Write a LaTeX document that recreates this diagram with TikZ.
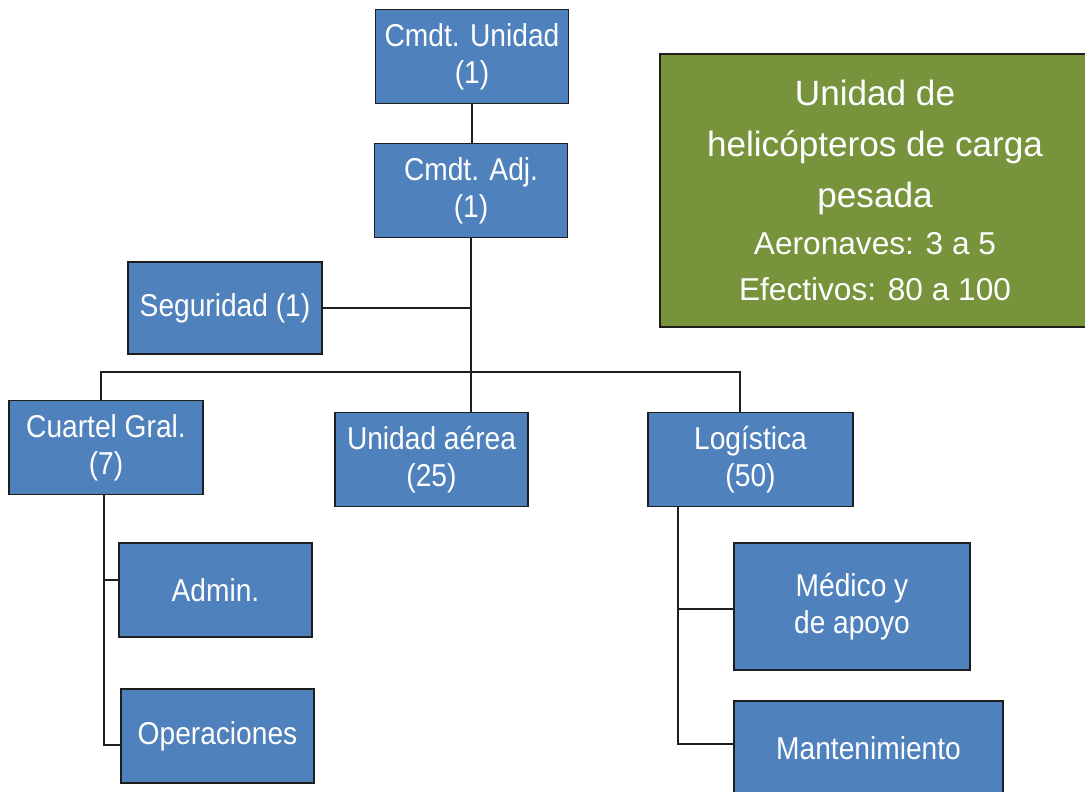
\documentclass[tikz,border=0pt]{standalone}
\usepackage{fontspec}
\setmainfont{Liberation Sans}
\newfontfamily\narrowfont[FakeStretch=0.89]{Liberation Sans}
\usepackage{tikz}
\usetikzlibrary{positioning,calc}
\definecolor{unitblue}{RGB}{79,129,189}
\definecolor{unitgreen}{RGB}{119,147,60}
\definecolor{linegray}{RGB}{30,30,30}

\begin{document}
\begin{tikzpicture}[
  x=0.02cm,y=-0.02cm,
  unit/.style={draw=linegray,fill=unitblue,text=white,line width=0.8pt,align=center,
    font=\narrowfont\fontsize{18}{21}\selectfont,inner sep=2pt,minimum height=1.87cm},
  info/.style={draw=linegray,fill=unitgreen,text=white,line width=0.8pt,align=center,
    font=\fontsize{20}{29}\selectfont,inner sep=2pt},
  conn/.style={draw=linegray,line width=0.8pt},
]
\useasboundingbox (0,0) rectangle (1085,791);
\clip (0,0) rectangle (1085,791);

\node[unit,minimum width=3.86cm] (unidad) at (472,56.5) {Cmdt. Unidad\\(1)};
\node[unit,minimum width=3.86cm] (adj) at (471,190.5) {Cmdt. Adj.\\(1)};
\node[unit,minimum width=3.88cm,minimum height=1.84cm] (seguridad) at (225,308) {Seguridad (1)};
\node[unit,minimum width=3.88cm] (cuartel) at (106,447.5) {Cuartel Gral.\\(7)};
\node[unit,minimum width=3.86cm] (aerea) at (431.5,459.5) {Unidad aérea\\(25)};
\node[unit,minimum width=4.1cm] (logistica) at (750.5,459.5) {Logística\\(50)};
\node[unit,minimum width=3.86cm,minimum height=1.88cm] (admin) at (215.5,590) {Admin.};
\node[unit,minimum width=3.86cm,minimum height=1.88cm] (operaciones) at (217.5,736) {Operaciones};
\node[unit,minimum width=4.72cm,minimum height=2.54cm] (medico) at (852,606.5) {Médico y\\de apoyo};
\node[unit,minimum width=5.38cm,minimum height=1.88cm] (mant) at (868.5,748) {Mantenimiento};

\node[info,minimum width=8.6cm,minimum height=5.46cm] (resumen) at (875,190.5)
  {Unidad de\\helicópteros de carga\\pesada\\[-2pt]
   \fontsize{18}{25}\selectfont Aeronaves: 3 a 5\\[-3pt]
   \fontsize{18}{25}\selectfont Efectivos: 80 a 100};

\coordinate (busL) at (101,372);
\coordinate (busR) at (740,372);
\coordinate (cgx) at (104,494);
\coordinate (lgx) at (678,506);

\draw[conn] (unidad.south) -- (unidad.south |- adj.north);
\draw[conn] (adj.south) -- (adj.south |- aerea.north);
\draw[conn] (seguridad.east) -- (seguridad.east -| adj.south);
\draw[conn] (busL |- cuartel.north) -- (busL) -- (busR) -- (busR |- logistica.north);
\draw[conn] (cgx) |- ($(operaciones.west)+(0,9)$);
\draw[conn] (cgx |- 0,580) -- (admin.west |- 0,580);
\draw[conn] (lgx) |- ($(mant.west)+(0,-4)$);
\draw[conn] (lgx |- 0,609) -- (medico.west |- 0,609);
\end{tikzpicture}
\end{document}
